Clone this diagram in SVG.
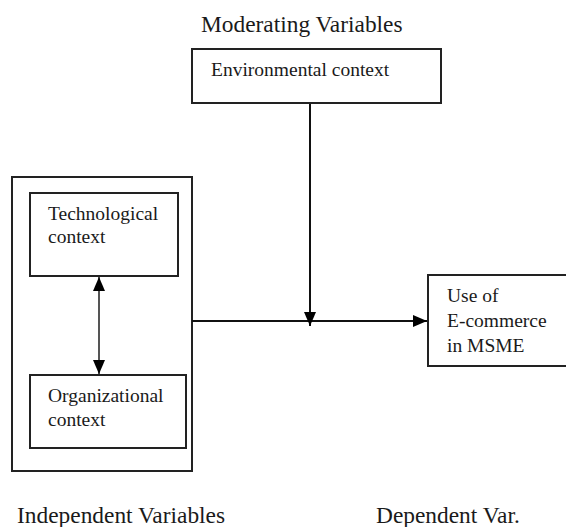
<svg xmlns="http://www.w3.org/2000/svg" width="566" height="527" viewBox="0 0 566 527">
<style>
.box{fill:#fff;stroke:#222;stroke-width:2}
text{font-family:'Liberation Serif','DejaVu Serif',serif;fill:#1a1a1a}
.t{font-size:19.5px}
.lbl{font-size:23.4px}
.ln{fill:none;stroke:#111;stroke-width:2}
.dbl{fill:none;stroke:#555;stroke-width:2}
</style>
<defs>
<marker id="ah" markerUnits="userSpaceOnUse" markerWidth="14" markerHeight="12" viewBox="0 0 14 12" refX="14" refY="6" orient="auto">
<path d="M0,0 L14,6 L0,12 Z" fill="#000"/>
</marker>
<marker id="ahs" markerUnits="userSpaceOnUse" markerWidth="14" markerHeight="12" viewBox="0 0 14 12" refX="0" refY="6" orient="auto">
<path d="M14,0 L0,6 L14,12 Z" fill="#000"/>
</marker>
</defs>
<rect width="566" height="527" fill="#fff"/>
<text class="lbl" x="201" y="32" font-family="Liberation Serif, serif">Moderating Variables</text>
<text class="lbl" x="17" y="523" font-family="Liberation Serif, serif">Independent Variables</text>
<text class="lbl" x="376" y="523" font-family="Liberation Serif, serif">Dependent Var.</text>
<g id="independent">
<rect class="box" x="12" y="177" width="180" height="294"/>
</g>
<g id="environmental">
<rect class="box" x="192" y="49" width="249" height="54"/>
<text class="t" x="211" y="76" font-family="Liberation Serif, serif">Environmental context</text>
</g>
<g id="technological">
<rect class="box" x="30" y="193" width="148" height="83"/>
<text class="t" x="48" y="220" font-family="Liberation Serif, serif">Technological</text>
<text class="t" x="48" y="243" font-family="Liberation Serif, serif">context</text>
</g>
<g id="organizational">
<rect class="box" x="30" y="375" width="156" height="73"/>
<text class="t" x="48" y="402" font-family="Liberation Serif, serif">Organizational</text>
<text class="t" x="48" y="426" font-family="Liberation Serif, serif">context</text>
</g>
<g id="ecommerce">
<rect class="box" x="428" y="275" width="140" height="91"/>
<text class="t" x="447" y="302" font-family="Liberation Serif, serif">Use of</text>
<text class="t" x="447" y="327" font-family="Liberation Serif, serif">E-commerce</text>
<text class="t" x="447" y="352" font-family="Liberation Serif, serif">in MSME</text>
</g>
<g id="connectors">
<line class="dbl" x1="99" y1="277" x2="99" y2="374" marker-start="url(#ahs)" marker-end="url(#ah)"/>
<line class="ln" x1="192" y1="321" x2="427" y2="321" marker-end="url(#ah)"/>
<line class="ln" x1="310" y1="104" x2="310" y2="326" marker-end="url(#ah)"/>
</g>
</svg>
